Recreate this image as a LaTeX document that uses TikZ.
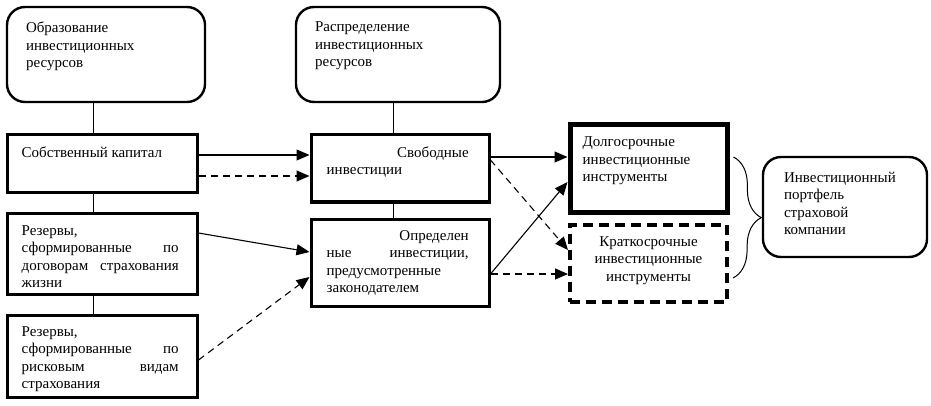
\documentclass[tikz,border=0pt]{standalone}
\usepackage{fontspec}
\setmainfont{Liberation Serif}
\usetikzlibrary{arrows.meta,positioning,calc,decorations.pathreplacing}

\begin{document}
\begin{tikzpicture}[
    x=1pt,y=-1pt,
    font=\fontsize{15}{17.5}\selectfont,
    head/.tip={Triangle[length=13pt,width=11pt]},
    stage/.style={draw,line width=2.4pt,rounded corners=18pt,inner sep=0pt},
    block/.style={draw,line width=3pt,inner sep=0pt},
    txt/.style={inner sep=0pt,align=left},
    link/.style={line width=1pt},
    flow/.style={line width=1.1pt,-head},
    flowd/.style={flow,dash pattern=on 7pt off 5pt},
    ]
    \useasboundingbox (0,0) rectangle (931,406);

    \node[stage,minimum width=198pt,minimum height=95pt] (obr) at (106,54.5) {};
    \node[stage,minimum width=204pt,minimum height=95pt] (ras) at (398,54.5) {};
    \node[block,minimum width=190pt,minimum height=58pt] (kap) at (102,164) {};
    \node[block,minimum width=190pt,minimum height=81pt] (zhizn) at (102,253.5) {};
    \node[block,minimum width=190pt,minimum height=82pt] (risk) at (102,356) {};
    \node[block,minimum width=178pt,minimum height=67pt] (svob) at (400,168.5) {};
    \node[block,minimum width=178pt,minimum height=87pt] (opr) at (400,262.5) {};
    \node[block,line width=5pt,minimum width=157pt,minimum height=87pt] (dolg) at (648.5,168.5) {};
    \node[block,line width=4pt,dash pattern=on 10pt off 6pt,minimum width=157pt,minimum height=77pt] (krat) at (648.5,263.5) {};
    \node[stage,minimum width=164pt,minimum height=100pt] (port) at (845,207) {};

    \node[txt,below right=16pt and 20pt of obr.north west] (obrt) {Образование\\инвестиционных\\ресурсов};
    \node[txt,below right=16pt and 20pt of ras.north west] (rast) {Распределение\\инвестиционных\\ресурсов};
    \node[txt,below right=13pt and 16pt of kap.north west] (kapt) {Собственный капитал};
    \node[txt,text width=157pt,below right=13.5pt and 16pt of zhizn.north west] (zhiznt)
        {Резервы,\\сформированные\hfill по\\договорам\hfill страхования\\жизни};
    \node[txt,text width=157pt,below right=12.5pt and 16pt of risk.north west] (riskt)
        {Резервы,\\сформированные\hfill по\\рисковым\hfill видам\\страхования};
    \node[txt,text width=142pt,below right=13pt and 17pt of svob.north west] (svobt)
        {\hfill Свободные\\инвестиции};
    \node[txt,text width=142pt,below right=12.5pt and 17pt of opr.north west] (oprt)
        {\hfill Определен\\ные\hfill инвестиции,\\предусмотренные\\законодателем};
    \node[txt,below right=14pt and 15pt of dolg.north west] (dolgt)
        {Долгосрочные\\инвестиционные\\инструменты};
    \node[txt,align=center,below=13pt of krat.north] (kratt)
        {Краткосрочные\\инвестиционные\\инструменты};
    \node[txt,below right=16pt and 22pt of port.north west] (portt)
        {Инвестиционный\\портфель\\страховой\\компании};

    \coordinate (lx) at (93,0);
    \coordinate (rx) at (393,0);
    \draw[link] (obr.south -| lx) -- (kap.north -| lx);
    \draw[link] (kap.south -| lx) -- (zhizn.north -| lx);
    \draw[link] (zhizn.south -| lx) -- (risk.north -| lx);
    \draw[link] (ras.south -| rx) -- (svob.north -| rx);
    \draw[link] (svob.south -| rx) -- (opr.north -| rx);

    \draw[flow] ($(kap.east)+(0,-9)$) coordinate (k1) -- (k1 -| svob.west);
    \draw[flowd] ($(kap.east)+(0,12)$) coordinate (k2) -- (k2 -| svob.west);
    \draw[flow] ($(zhizn.east)+(0,-20.5)$) -- ($(opr.west)+(0,-10.5)$);
    \draw[flowd] ($(risk.east)+(0,4)$) -- ($(opr.west)+(0,14.5)$);
    \draw[flow] ($(svob.east)+(0,-11.5)$) coordinate (s1) -- (s1 -| dolg.west);
    \draw[flowd] ($(svob.east)+(0,-8.5)$) -- ($(krat.west)+(0,-13.5)$);
    \draw[flow] ($(opr.east)+(0,11.5)$) -- ($(dolg.west)+(0,13.5)$);
    \draw[flowd] ($(opr.east)+(0,11.5)$) coordinate (o1) -- (o1 -| krat.west);

    \draw[link,decorate,decoration={brace,amplitude=28pt}]
        ($(dolg.east)+(4,-11.5)$) -- ($(krat.east)+(4,14.5)$);
\end{tikzpicture}
\end{document}
